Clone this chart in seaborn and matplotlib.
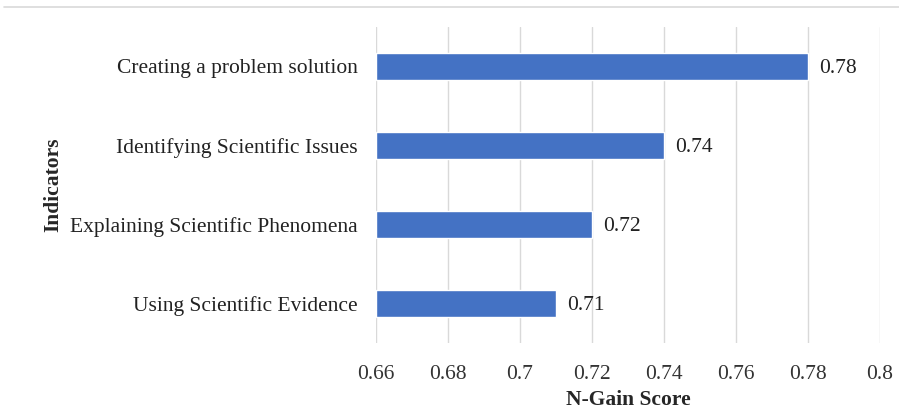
import pandas as pd
import matplotlib.pyplot as plt
import seaborn as sns
from matplotlib.lines import Line2D

sns.set_theme(style="whitegrid")
plt.rcParams['font.family'] = ['Liberation Serif', 'DejaVu Serif']

indicators = ["Creating a problem solution", "Identifying Scientific Issues",
              "Explaining Scientific Phenomena", "Using Scientific Evidence"]
scores = [0.78, 0.74, 0.72, 0.71]
xticks = [0.66, 0.68, 0.70, 0.72, 0.74, 0.76, 0.78, 0.80]
xtick_labels = ["0.66", "0.68", "0.7", "0.72", "0.74", "0.76", "0.78", "0.8"]

df = pd.DataFrame({"Indicator": indicators, "Score": scores})

fig = plt.figure(figsize=(8.99, 4.12), dpi=100)
ax = fig.add_axes([0.4182, 0.1675, 0.5607, 0.767])

sns.barplot(data=df, y="Indicator", x="Score", color="#4472C4", width=0.35,
            saturation=1, ax=ax)
# bars start at 0.66, not at 0
ax.set_xlim(0.66, 0.80)
for p in ax.patches:
    p.set_x(0.66)
    p.set_width(p.get_width() - 0.66)

fs = 15.5
for i, v in enumerate(scores):
    ax.text(v + 0.0032, i, f"{v:.2f}", va="center_baseline", ha="left",
            fontsize=fs, color="#222222")

ax.set_xticks(xticks)
ax.set_xticklabels(xtick_labels, fontsize=fs, color="#333333")
ax.tick_params(axis="y", labelsize=fs, labelcolor="#222222", pad=7)
ax.tick_params(axis="x", pad=10)
ax.grid(axis="x", color="#d9d9d9", linewidth=1)
ax.grid(axis="y", visible=False)
for s in ax.spines.values():
    s.set_visible(False)

ax.set_xlabel("N-Gain Score", fontsize=fs, fontweight="bold", labelpad=4)
ax.set_ylabel("Indicators", fontsize=fs, fontweight="bold")
ax.yaxis.set_label_coords(-0.62, 0.5)

fig.add_artist(Line2D([0.005, 1.0], [0.982, 0.982], color="#d9d9d9", linewidth=1.2))

plt.savefig("out.png", dpi=100)
